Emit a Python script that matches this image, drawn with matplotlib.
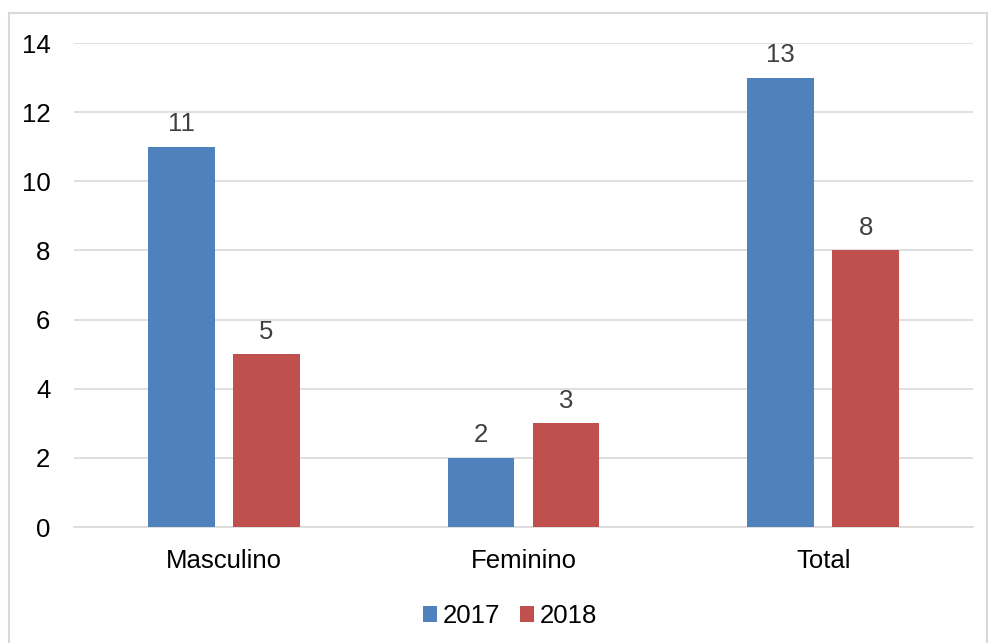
import matplotlib.pyplot as plt
import numpy as np
from matplotlib.patches import Rectangle

categories = ["Masculino", "Feminino", "Total"]
series_names = ["2017", "2018"]
values_2017 = [11, 2, 13]
values_2018 = [5, 3, 8]
colors = ["#4f81bd", "#c0504d"]

plt.rcParams["font.family"] = ["Liberation Sans", "DejaVu Sans"]
fs = 18.5

fig = plt.figure(figsize=(9.89, 6.43), dpi=100)
ax = fig.add_axes([0.0748, 0.1804, 0.9090, 0.7527])

# outer chart border
fig.patches.append(Rectangle((9 / 989, -0.01), 978 / 989, 1 - 13 / 643 + 0.01,
                             transform=fig.transFigure, fill=False,
                             edgecolor="#d9d9d9", linewidth=1.5))

x = np.arange(len(categories))
width = 0.223
offset = 0.1417
for vals, name, color, sign in zip([values_2017, values_2018], series_names, colors, [-1, 1]):
    bars = ax.bar(x + sign * offset, vals, width, color=color, label=name, zorder=3)
    for b, v in zip(bars, vals):
        ax.text(b.get_x() + b.get_width() / 2, v + 0.3, str(v),
                ha="center", va="bottom", fontsize=fs, color="#404040")

ax.set_xlim(-0.5, 2.5)
ax.set_ylim(0, 14)
ax.set_yticks(range(0, 15, 2))
ax.set_xticks(x)
ax.set_xticklabels(categories)
ax.grid(axis="y", color="#d9d9d9", linewidth=1.2, zorder=0)
for s in ["top", "right", "left"]:
    ax.spines[s].set_visible(False)
ax.spines["bottom"].set_color("#d9d9d9")
ax.spines["bottom"].set_linewidth(1.2)
ax.tick_params(axis="both", length=0, labelsize=fs, colors="black")
ax.tick_params(axis="y", pad=17)
ax.tick_params(axis="x", pad=16)

ax.legend(loc="center", bbox_to_anchor=(510 / 989, 1 - 616 / 643),
          bbox_transform=fig.transFigure, ncol=2, frameon=False,
          fontsize=fs, handlelength=0.55, handleheight=0.55,
          handletextpad=0.2, columnspacing=0.8)

fig.savefig("out.png", dpi=100)
